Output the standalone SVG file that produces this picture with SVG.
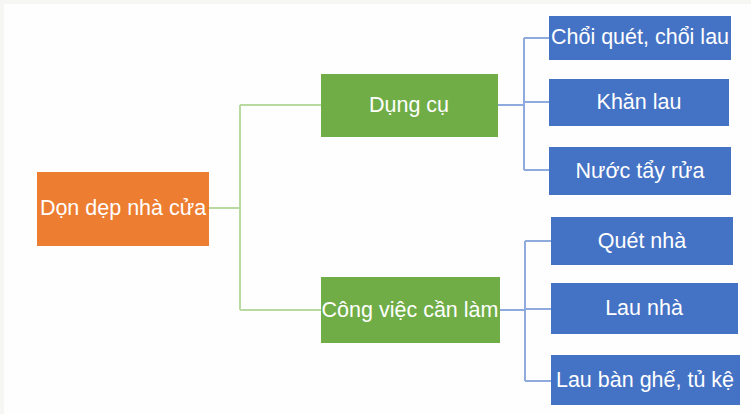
<svg xmlns="http://www.w3.org/2000/svg" width="751" height="414" viewBox="0 0 751 414">
<style>
.t{font-family:"Liberation Sans",Arial,sans-serif;font-size:21.5px;fill:#ffffff;text-anchor:middle}
.g{fill:#70AD47}
.b{fill:#4472C4}
.o{fill:#ED7D31}
.cg{fill:none;stroke:#B8D9A0;stroke-width:2}
.cb{fill:none;stroke:#8FAADC;stroke-width:2}
</style>
<rect x="0" y="0" width="751" height="414" fill="#f6f6f4"/>
<rect x="4" y="4" width="747" height="410" fill="#fefefe"/>
<g id="connectors">
<path class="cg" d="M209,208 H240 M240,105 V310 M240,105 H321 M240,310 H321"/>
<path class="cb" d="M498,105 H524 M524,38 V170 M524,38 H549 M524,102 H549 M524,170 H549"/>
<path class="cb" d="M500,310 H525 M525,241 V381 M525,241 H551 M525,309 H551 M525,381 H551"/>
</g>
<g id="root"><rect class="o" x="37" y="172" width="172" height="74"/><text class="t" x="123" y="215">Dọn dẹp nhà cửa</text></g>
<g id="dungcu"><rect class="g" x="321" y="74" width="177" height="63"/><text class="t" x="409" y="112">Dụng cụ</text></g>
<g id="congviec"><rect class="g" x="321" y="277" width="179" height="66"/><text class="t" x="410" y="317">Công việc cần làm</text></g>
<g id="choi"><rect class="b" x="549" y="16" width="182" height="44"/><text class="t" x="640" y="44">Chổi quét, chổi lau</text></g>
<g id="khan"><rect class="b" x="549" y="79" width="180" height="47"/><text class="t" x="639" y="109">Khăn lau</text></g>
<g id="nuoc"><rect class="b" x="549" y="147" width="182" height="48"/><text class="t" x="640" y="178">Nước tẩy rửa</text></g>
<g id="quet"><rect class="b" x="551" y="217" width="182" height="48"/><text class="t" x="642" y="248">Quét nhà</text></g>
<g id="lau"><rect class="b" x="551" y="283" width="187" height="51"/><text class="t" x="644" y="315">Lau nhà</text></g>
<g id="ban"><rect class="b" x="551" y="355" width="189" height="50"/><text class="t" x="645" y="387">Lau bàn ghế, tủ kệ</text></g>
</svg>
